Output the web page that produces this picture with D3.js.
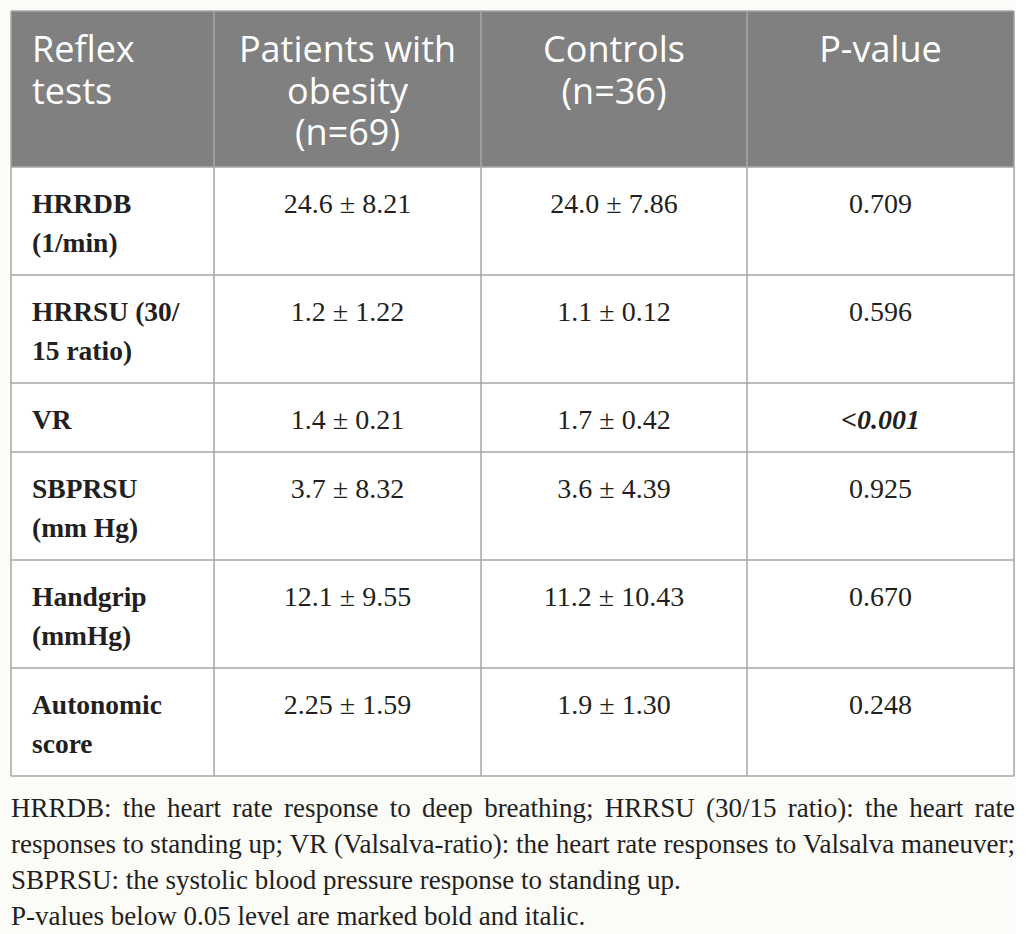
<!DOCTYPE html>
<html>
<head>
<meta charset="utf-8">
<script src="https://cdn.jsdelivr.net/npm/d3@7"></script>
<style>
  html, body { margin: 0; padding: 0; background: #ffffff; }
  svg { display: block; }
</style>
</head>
<body>
<script>
// Datos de la tabla
const headers = [["Reflex", "tests"], ["Patients with", "obesity", "(n=69)"], ["Controls", "(n=36)"], ["P-value"]];
const rowLabels = [["HRRDB", "(1/min)"], ["HRRSU (30/", "15 ratio)"], ["VR"], ["SBPRSU", "(mm Hg)"], ["Handgrip", "(mmHg)"], ["Autonomic", "score"]];
const obesityMean = ["24.6", "1.2", "1.4", "3.7", "12.1", "2.25"];
const obesitySD = ["8.21", "1.22", "0.21", "8.32", "9.55", "1.59"];
const controlMean = ["24.0", "1.1", "1.7", "3.6", "11.2", "1.9"];
const controlSD = ["7.86", "0.12", "0.42", "4.39", "10.43", "1.30"];
const pValues = ["0.709", "0.596", "<0.001", "0.925", "0.670", "0.248"];
const significant = [false, false, true, false, false, false];
const footnoteLines = [
  "HRRDB: the heart rate response to deep breathing; HRRSU (30/15 ratio): the heart rate",
  "responses to standing up; VR (Valsalva-ratio): the heart rate responses to Valsalva maneuver;",
  "SBPRSU: the systolic blood pressure response to standing up.",
  "P-values below 0.05 level are marked bold and italic."
];
const justified = [true, true, false, false];

const w = 1026;
const h = 934;

// Bordes de columnas
const colEdges = [11, 214, 481, 747, 1014];
const tableTop = 11;
const headerH = 156;
const lineH = 39;
const rowPad = 30;

const svg = d3.select('body')
  .append('svg')
  .attr('width', w)
  .attr('height', h);

svg.append('rect')
  .attr('width', 1016)
  .attr('height', h)
  .attr('fill', '#fbfbf7');

// Alturas de filas
const rowTops = [];
let yAcc = tableTop + headerH;
rowLabels.forEach((lab) => {
  rowTops.push(yAcc);
  yAcc += rowPad + lineH * lab.length;
});
const tableBottom = yAcc;

// Cabecera
svg.append('rect')
  .attr('x', colEdges[0])
  .attr('y', tableTop)
  .attr('width', colEdges[4] - colEdges[0])
  .attr('height', headerH)
  .attr('fill', '#808080');

// Cuerpo blanco
svg.append('rect')
  .attr('x', colEdges[0])
  .attr('y', tableTop + headerH)
  .attr('width', colEdges[4] - colEdges[0])
  .attr('height', tableBottom - tableTop - headerH)
  .attr('fill', '#ffffff');

const head = svg.append('g').attr('class', 'header');

headers.forEach((lines, ci) => {
  const left = ci === 0;
  const x = left ? colEdges[0] + 21 : (colEdges[ci] + colEdges[ci + 1]) / 2;
  head.append('text')
    .attr('font-family', '"Open Sans", sans-serif')
    .attr('font-size', 36)
    .attr('fill', '#ffffff')
    .attr('text-anchor', left ? 'start' : 'middle')
    .selectAll('tspan')
    .data(lines)
    .enter()
    .append('tspan')
    .attr('x', x)
    .attr('y', (d, i) => tableTop + 51 + i * 41.5)
    .text((d) => d);
});

// Filas
const body = svg.append('g').attr('class', 'body');
const serif = '"Liberation Serif", "Times New Roman", serif';

rowLabels.forEach((lab, ri) => {
  const top = rowTops[ri];
  body.append('text')
    .attr('font-family', serif)
    .attr('font-size', 27.5)
    .attr('font-weight', 'bold')
    .attr('fill', '#231f20')
    .selectAll('tspan')
    .data(lab)
    .enter()
    .append('tspan')
    .attr('x', colEdges[0] + 21)
    .attr('y', (d, i) => top + 46 + i * lineH)
    .text((d) => d);

  const cells = [
    `${obesityMean[ri]} ± ${obesitySD[ri]}`,
    `${controlMean[ri]} ± ${controlSD[ri]}`
  ];
  cells.forEach((t, ci) => {
    body.append('text')
      .attr('x', (colEdges[ci + 1] + colEdges[ci + 2]) / 2)
      .attr('y', top + 46)
      .attr('text-anchor', 'middle')
      .attr('font-family', serif)
      .attr('font-size', 28)
      .attr('fill', '#231f20')
      .text(t);
  });

  const pt = body.append('text')
    .attr('x', (colEdges[3] + colEdges[4]) / 2)
    .attr('y', top + 46)
    .attr('text-anchor', 'middle')
    .attr('font-family', serif)
    .attr('font-size', 28)
    .attr('fill', '#231f20');
  if (significant[ri]) {
    const p = pValues[ri];
    pt.append('tspan').attr('font-weight', 'bold').text(p.slice(0, 1));
    pt.append('tspan').attr('font-weight', 'bold').attr('font-style', 'italic').text(p.slice(1));
  } else {
    pt.text(pValues[ri]);
  }
});

// Líneas de la tabla
const grid = svg.append('g').attr('class', 'grid');
const hLines = [tableTop, tableTop + headerH].concat(rowTops.slice(1), [tableBottom]);
grid.selectAll('line.h')
  .data(hLines)
  .enter()
  .append('line')
  .attr('class', 'h')
  .attr('x1', colEdges[0])
  .attr('x2', colEdges[4])
  .attr('y1', (d) => d)
  .attr('y2', (d) => d)
  .attr('stroke', '#a6a6a6')
  .attr('stroke-width', 1.5);

grid.selectAll('line.v')
  .data(colEdges)
  .enter()
  .append('line')
  .attr('class', 'v')
  .attr('x1', (d) => d)
  .attr('x2', (d) => d)
  .attr('y1', tableTop)
  .attr('y2', tableBottom)
  .attr('stroke', '#a6a6a6')
  .attr('stroke-width', 1.5);

// Nota al pie, justificada a mano
const foot = svg.append('g').attr('class', 'foot');
const footLeft = 11;
const footRight = 1015;

footnoteLines.forEach((line, li) => {
  const y = 817 + li * 36;
  const t = foot.append('text')
    .attr('font-family', serif)
    .attr('font-size', 27)
    .attr('fill', '#231f20');
  if (!justified[li]) {
    t.attr('x', footLeft).attr('y', y).text(line);
    return;
  }
  const words = line.split(' ');
  const spans = t.selectAll('tspan')
    .data(words)
    .enter()
    .append('tspan')
    .attr('y', y)
    .text((d) => d);
  const widths = [];
  spans.each(function () { widths.push(this.getComputedTextLength()); });
  const total = d3.sum(widths);
  const gap = (footRight - footLeft - total) / (words.length - 1);
  let x = footLeft;
  spans.attr('x', (d, i) => {
    const xi = x;
    x += widths[i] + gap;
    return xi;
  });
});
</script>
</body>
</html>
